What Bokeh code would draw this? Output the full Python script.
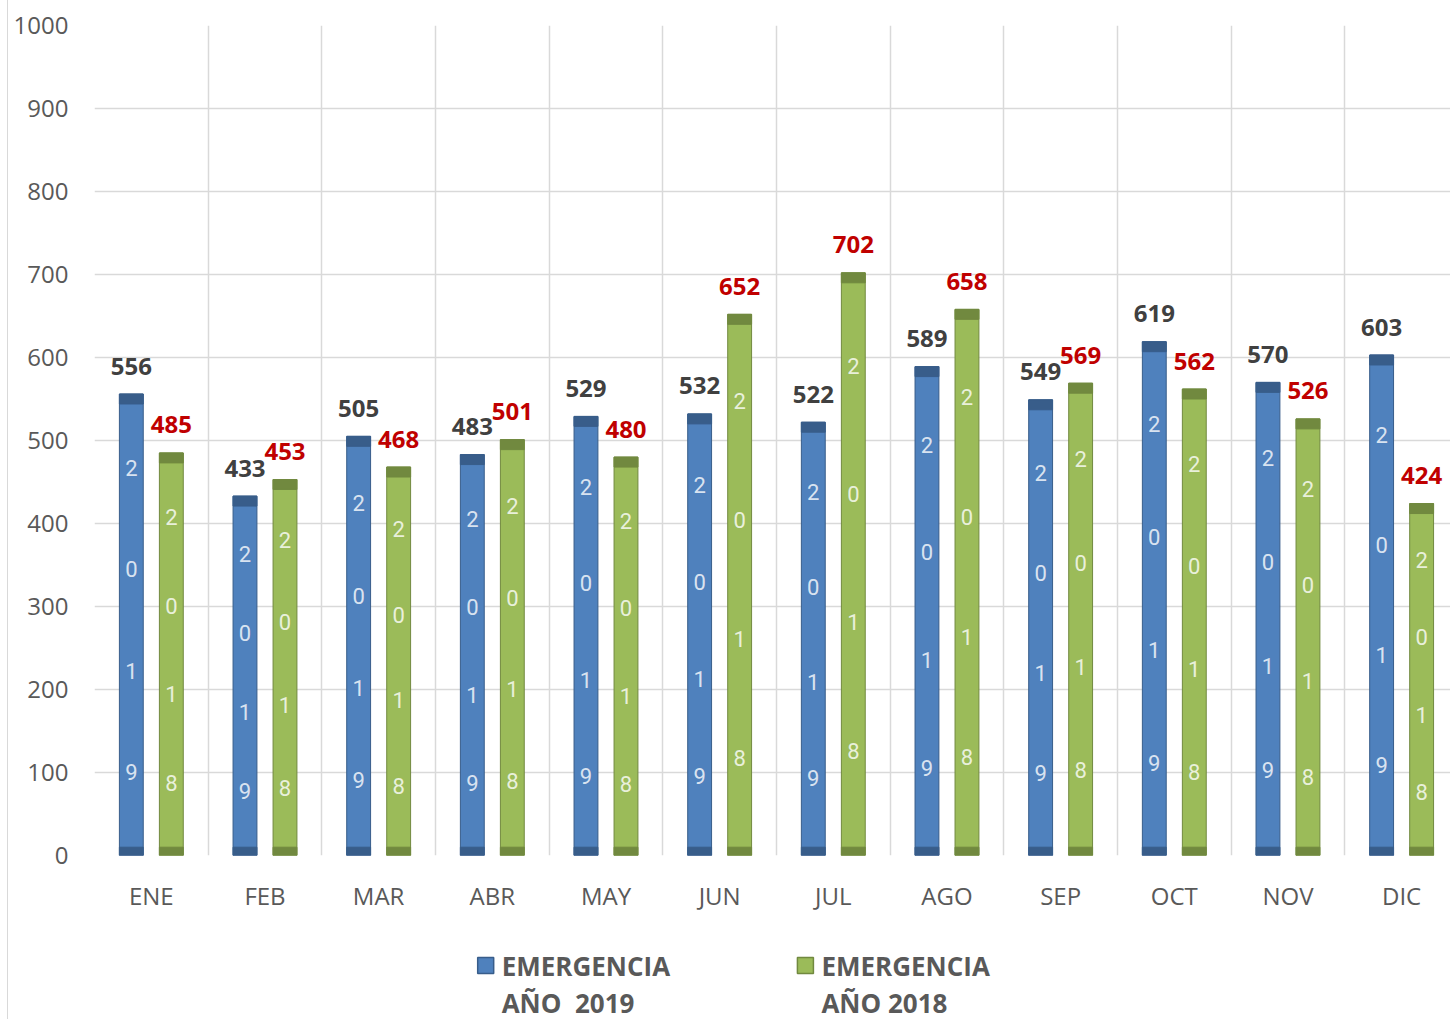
from bokeh.plotting import figure
from bokeh.layouts import column
from bokeh.models import Range1d, FixedTicker, ColumnDataSource
from bokeh.core.properties import value
from bokeh.embed import file_html
from bokeh.resources import INLINE

# ---- data ----
months = ["ENE", "FEB", "MAR", "ABR", "MAY", "JUN", "JUL", "AGO", "SEP", "OCT", "NOV", "DIC"]
emergencia_2019 = [556, 433, 505, 483, 529, 532, 522, 589, 549, 619, 570, 603]
emergencia_2018 = [485, 453, 468, 501, 480, 652, 702, 658, 569, 562, 526, 424]
y_ticks = [0, 100, 200, 300, 400, 500, 600, 700, 800, 900, 1000]
series_names = ["EMERGENCIA", "EMERGENCIA"]
series_years = ["AÑO\u00a0 2019", "AÑO 2018"]
digits_2019 = ["2", "0", "1", "9"]
digits_2018 = ["2", "0", "1", "8"]

# ---- style ----
BLUE, BLUE_D = "#4f81bd", "#385d8a"
GREEN, GREEN_D = "#9bbb59", "#71893f"
GRID = "#d9d9d9"
TXT = "#595959"
FONT = "Open Sans"
OFF = 0.176
BW = 0.21
CAP_T = 12
CAP_B = 10
FRACS = [0.16, 0.38, 0.60, 0.82]

n = len(months)
W = 1442
H_MAIN, H_LEG = 930, 89
p = figure(width=W, height=H_MAIN, output_backend="svg", toolbar_location=None,
           x_range=Range1d(0, 11.93), y_range=Range1d(0, 1000),
           min_border_left=86, min_border_right=0, min_border_top=25, min_border_bottom=75)
p.outline_line_color = None
p.background_fill_color = "white"
p.border_fill_color = "white"

# axes
p.yaxis.ticker = FixedTicker(ticks=y_ticks)
p.yaxis.axis_line_color = None
p.yaxis.major_tick_line_color = None
p.yaxis.minor_tick_line_color = None
p.yaxis.major_label_text_font = FONT
p.yaxis.major_label_text_font_size = "24px"
p.yaxis.major_label_text_color = TXT
p.yaxis.major_label_standoff = 20

centers = [i + 0.5 for i in range(n)]
p.xaxis.ticker = FixedTicker(ticks=centers)
p.xaxis.major_label_overrides = {c: m for c, m in zip(centers, months)}
p.xaxis.axis_line_color = None
p.xaxis.major_tick_line_color = None
p.xaxis.minor_tick_line_color = None
p.xaxis.major_label_text_font = FONT
p.xaxis.major_label_text_font_size = "24px"
p.xaxis.major_label_text_color = TXT
p.xaxis.major_label_standoff = 17

p.ygrid.ticker = FixedTicker(ticks=y_ticks)
p.ygrid.grid_line_color = GRID
p.ygrid.grid_line_width = 1.5
p.xgrid.ticker = FixedTicker(ticks=list(range(n + 1)))
p.xgrid.grid_line_color = GRID
p.xgrid.grid_line_width = 1.5

# bars
for vals, off, col, dcol, digits, lab_col in [
        (emergencia_2019, -OFF, BLUE, BLUE_D, digits_2019, "#404040"),
        (emergencia_2018, OFF, GREEN, GREEN_D, digits_2018, "#c00000")]:
    xs = [c + off for c in centers]
    src = ColumnDataSource(dict(x=xs, top=vals,
                                cap_b=[v - CAP_T for v in vals],
                                zero=[0] * n, base=[CAP_B] * n,
                                lab=[str(v) for v in vals]))
    p.vbar(x="x", top="top", bottom="zero", width=BW, source=src,
           fill_color=col, line_color=dcol, line_width=1)
    p.vbar(x="x", top="top", bottom="cap_b", width=BW, source=src,
           fill_color=dcol, line_color=dcol, line_width=1)
    p.vbar(x="x", top="base", bottom="zero", width=BW, source=src,
           fill_color=dcol, line_color=dcol, line_width=1)
    # digits inside bars
    dx, dy, dt = [], [], []
    for x, v in zip(xs, vals):
        for f, d in zip(FRACS, digits):
            dx.append(x)
            dy.append(v * (1 - f))
            dt.append(d)
    p.text(x=dx, y=dy, text=dt, text_color="white", text_alpha=0.8,
           text_font=value("Roboto"), text_font_size="22px",
           text_align="center", text_baseline="middle")
    # value labels
    p.text(x="x", y="top", text="lab", source=src, text_color=lab_col,
           text_font=value(FONT), text_font_style="bold", text_font_size="24px",
           text_align="center", text_baseline="middle", y_offset=-28)

# ---- legend strip (pixel coordinates) ----
lg = figure(width=W, height=H_LEG, output_backend="svg", toolbar_location=None,
            x_range=Range1d(0, W), y_range=Range1d(0, H_LEG),
            x_axis_location=None, y_axis_location=None,
            min_border_left=0, min_border_right=0, min_border_top=0, min_border_bottom=0)
lg.grid.visible = False
lg.outline_line_color = None
lg.background_fill_color = "white"
lg.border_fill_color = "white"
leg_x = [416, 756]
leg_cols = [BLUE, GREEN]
leg_dark = [BLUE_D, GREEN_D]
lg.scatter(x=leg_x, y=[54, 54], marker="square", size=16,
           fill_color=leg_cols, line_color=leg_dark, line_width=1.5)
lg.text(x=[x + 17 for x in leg_x], y=[54, 54], text=series_names,
        text_color=TXT, text_font=value(FONT), text_font_style="bold",
        text_font_size="26px", text_align="left", text_baseline="middle")
lg.text(x=[x + 17 for x in leg_x], y=[17, 17], text=series_years,
        text_color=TXT, text_font=value(FONT), text_font_style="bold",
        text_font_size="26px", text_align="left", text_baseline="middle")

layout = column(p, lg, spacing=0)
layout.styles = {"margin-left": "7px", "border-left": "1px solid #d9d9d9"}

open("out.html", "w").write(file_html(layout, INLINE))
